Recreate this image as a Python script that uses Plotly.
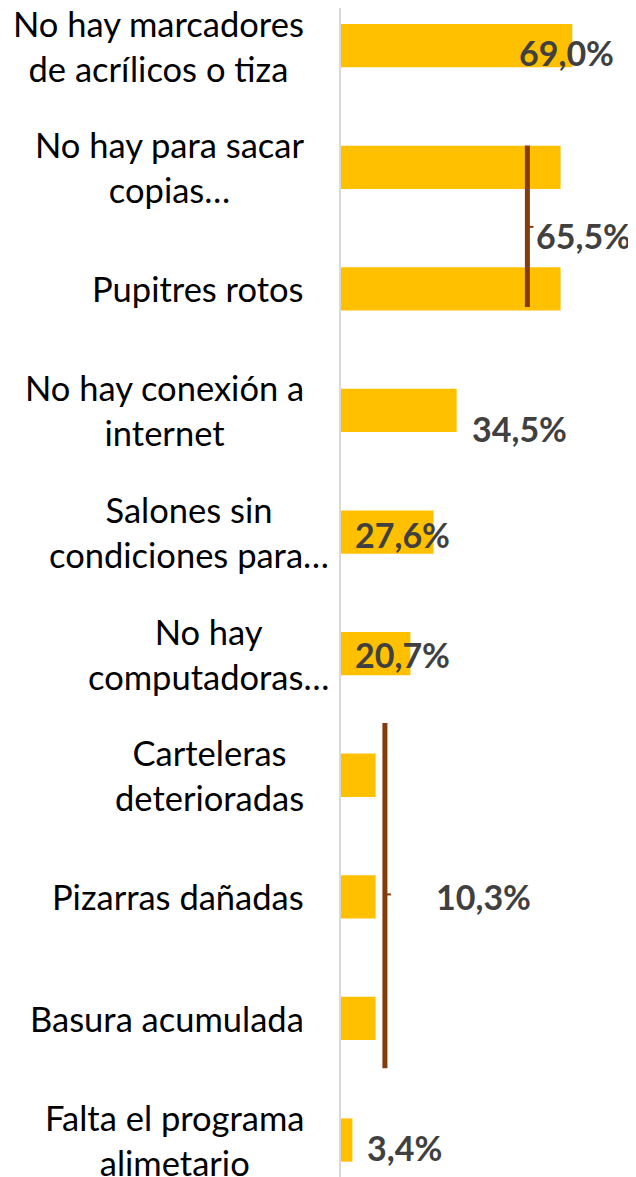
import plotly.graph_objects as go

categories = [
    "No hay marcadores<br>de acrílicos o tiza",
    "No hay para sacar<br>copias…",
    "Pupitres rotos",
    "No hay conexión a<br>internet",
    "Salones sin<br>condiciones para…",
    "No hay<br>computadoras…",
    "Carteleras<br>deterioradas",
    "Pizarras dañadas",
    "Basura acumulada",
    "Falta el programa<br>alimetario",
]
values = [69.0, 65.5, 65.5, 34.5, 27.6, 20.7, 10.3, 10.3, 10.3, 3.4]

# value labels (text, x in data units, y in category index)
value_labels = ["69,0%", "65,5%", "34,5%", "27,6%", "20,7%", "10,3%", "3,4%"]
value_label_x = [67.4, 72.3, 53.2, 18.4, 18.4, 42.5, 19.0]
value_label_y = [0.06, 1.56, 3.15, 4.02, 5.01, 7.0, 9.06]

# brackets grouping equal values: (x, y_start, y_end, y_tick)
brackets = [(55.6, 0.82, 2.15, 1.49), (13.1, 5.57, 8.41, 6.98)]

label_shift = [-35, -35, -35, -35, -10, -10, -35, -35, -35, -35]

idx = list(range(len(categories)))

fig = go.Figure()
fig.add_trace(go.Bar(
    x=values, y=idx, orientation="h",
    marker=dict(color="#FFC000", line=dict(width=0)),
    width=0.356, hoverinfo="skip",
))

annotations = []
for i, lab in enumerate(categories):
    annotations.append(dict(
        text=lab, xref="paper", x=0, xanchor="right", xshift=label_shift[i],
        yref="y", y=i, yanchor="middle", showarrow=False, align="center",
        font=dict(family="Lato", size=34.5, color="#000000"),
    ))
for t, x, y in zip(value_labels, value_label_x, value_label_y):
    annotations.append(dict(
        text="<b>" + t + "</b>", xref="x", x=x, yref="y", y=y,
        xanchor="center", yanchor="middle", showarrow=False,
        font=dict(family="Lato", size=34, color="#404040"),
    ))

shapes = []
for bx, y0, y1, yt in brackets:
    shapes.append(dict(type="line", xref="x", yref="y", x0=bx, x1=bx, y0=y0, y1=y1,
                       line=dict(color="#843C0C", width=5)))
    shapes.append(dict(type="line", xref="x", yref="y", x0=bx, x1=bx + 1.8, y0=yt, y1=yt,
                       line=dict(color="#843C0C", width=2)))

fig.update_layout(
    width=628, height=1169,
    margin=dict(l=333, r=0, t=0, b=0),
    plot_bgcolor="white", paper_bgcolor="white",
    showlegend=False,
    xaxis=dict(range=[0, 88.0], visible=False, fixedrange=True),
    yaxis=dict(range=[9.304, -0.310], showticklabels=False, showgrid=False,
               zeroline=False, showline=True, linecolor="#D9D9D9", linewidth=2,
               ticks="", fixedrange=True),
    annotations=annotations, shapes=shapes,
)

fig.write_html("out.html", config={"displayModeBar": False})
